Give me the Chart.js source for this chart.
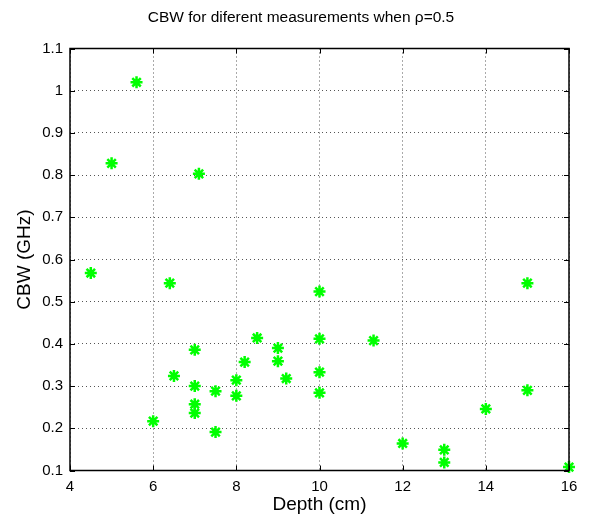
<!DOCTYPE html>
<html><head><meta charset="utf-8">
<script src="https://cdn.jsdelivr.net/npm/chart.js@4/dist/chart.umd.min.js"></script>
<style>html,body{margin:0;padding:0;background:#fff}#wrap{width:590px;height:519px}</style>
</head><body><div id="wrap"><canvas id="c" width="590" height="519"></canvas></div>
<script>
const depth = [5.6, 5, 7.1, 4.5, 6.4, 7, 6.5, 7, 7, 7, 6, 7.5, 7.5, 8.5, 8.2, 8, 8, 9, 9, 9.2, 10, 10, 10, 10, 11.3, 12, 13, 13, 14, 15, 15, 16];
const cbw = [1.02, 0.828, 0.803, 0.568, 0.544, 0.386, 0.324, 0.300, 0.257, 0.236, 0.217, 0.288, 0.191, 0.414, 0.357, 0.314, 0.277, 0.390, 0.359, 0.318, 0.524, 0.412, 0.333, 0.284, 0.408, 0.164, 0.149, 0.119, 0.246, 0.544, 0.290, 0.108];
const xTicks = [4, 6, 8, 10, 12, 14, 16];
const yTicks = [0.1, 0.2, 0.3, 0.4, 0.5, 0.6, 0.7, 0.8, 0.9, 1, 1.1];
const titleText = 'CBW for diferent measurements when \u03C1=0.5';

const FONT = 'Liberation Sans, Arial, sans-serif';
const boxPlugin = {
  id: 'box',
  afterDatasetsDraw(chart) {
    const {ctx, chartArea: a, scales: {x, y}} = chart;
    ctx.save();
    ctx.strokeStyle = '#000';
    ctx.lineWidth = 1;
    ctx.beginPath();
    xTicks.forEach(v => {
      const px = Math.round(x.getPixelForValue(v)) + 0.5;
      ctx.moveTo(px, a.bottom); ctx.lineTo(px, a.bottom - 5);
      ctx.moveTo(px, a.top); ctx.lineTo(px, a.top + 5);
    });
    yTicks.forEach(v => {
      const py = Math.round(y.getPixelForValue(v)) + 0.5;
      ctx.moveTo(a.left, py); ctx.lineTo(a.left + 5, py);
      ctx.moveTo(a.right, py); ctx.lineTo(a.right - 5, py);
    });
    ctx.stroke();
    ctx.lineWidth = 1.5;
    ctx.strokeRect(a.left, a.top, a.right - a.left, a.bottom - a.top);
    // title
    ctx.fillStyle = '#000';
    ctx.font = '15.5px ' + FONT;
    ctx.textAlign = 'center';
    ctx.textBaseline = 'middle';
    ctx.fillText(titleText, 301, 18);
    ctx.restore();
  }
};

new Chart(document.getElementById('c'), {
  type: 'scatter',
  data: {
    datasets: [{
      data: depth.map((d, i) => ({x: d, y: cbw[i]})),
      pointStyle: 'star',
      radius: 6,
      hoverRadius: 6,
      borderColor: '#00ff00',
      backgroundColor: '#00ff00',
      borderWidth: 2.5,
      clip: false
    }]
  },
  options: {
    responsive: false,
    animation: false,
    events: [],
    layout: {padding: {left: 0, right: 21, top: 48.5, bottom: 0}},
    plugins: {
      legend: {display: false},
      tooltip: {enabled: false},
      title: {display: false}
    },
    scales: {
      x: {
        type: 'linear', min: 4, max: 16,
        afterBuildTicks: s => { s.ticks = xTicks.map(v => ({value: v})); },
        afterFit: s => { s.height = 48.5; },
        border: {display: false, dash: [1, 3]},
        grid: {color: '#555', drawTicks: false, lineWidth: 1},
        ticks: {color: '#000', font: {family: FONT, size: 15}, padding: 7, maxRotation: 0},
        title: {display: true, text: 'Depth (cm)', color: '#000', font: {family: FONT, size: 19}, padding: {top: 0, bottom: 2.5}}
      },
      y: {
        type: 'linear', min: 0.1, max: 1.1,
        afterBuildTicks: s => { s.ticks = yTicks.map(v => ({value: v})); },
        afterFit: s => { s.width = 70; },
        border: {display: false, dash: [1, 3]},
        grid: {color: '#555', drawTicks: false, lineWidth: 1},
        ticks: {color: '#000', font: {family: FONT, size: 15}, padding: 7, callback: v => String(Math.round(v * 10) / 10)},
        title: {display: true, text: 'CBW (GHz)', color: '#000', font: {family: FONT, size: 19}, padding: {top: 13.6, bottom: 0}}
      }
    }
  },
  plugins: [boxPlugin]
});
</script></body></html>
